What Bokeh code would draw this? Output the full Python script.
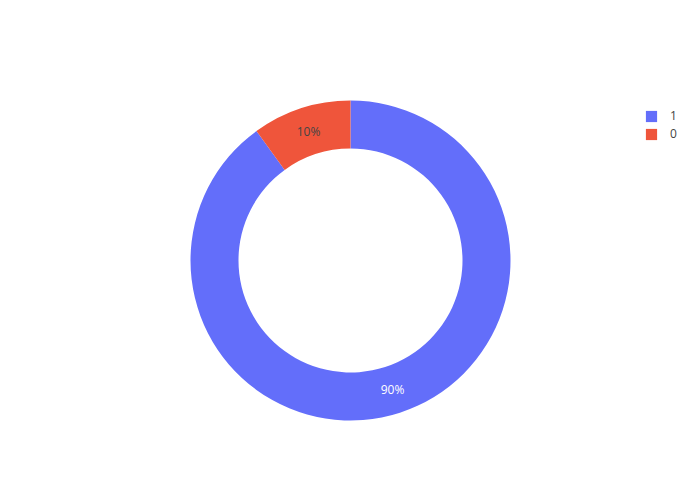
import math
from bokeh.plotting import figure
from bokeh.models import Range1d, ColumnDataSource, Legend, LegendItem
from bokeh.core.properties import value
from bokeh.embed import file_html
from bokeh.resources import INLINE

labels = ["1", "0"]
values = [90, 10]
colors = ["#636efa", "#EF553B"]
text_colors = ["#ffffff", "#444444"]

W, H = 684, 484
p = figure(width=W, height=H, output_backend="svg", toolbar_location=None,
           x_range=Range1d(0, 684), y_range=Range1d(16, 500),
           min_border=0, outline_line_color=None, background_fill_color="white")
p.axis.visible = False
p.grid.visible = False

cx, cy = 350, 240
r_out, r_in = 160, 112
total = sum(values)
start = 90.0
starts, ends, lx, ly, pct = [], [], [], [], []
for v in values:
    sweep = 360.0 * v / total
    end = start - sweep
    starts.append(math.radians(end))
    ends.append(math.radians(start))
    mid = math.radians(start - sweep / 2)
    rm = (r_out + r_in) / 2
    lx.append(cx + rm * math.cos(mid))
    ly.append(cy + rm * math.sin(mid))
    pct.append(f"{round(100 * v / total)}%")
    start = end

src = ColumnDataSource(dict(start=starts, end=ends, color=colors, lx=lx, ly=ly,
                            pct=pct, tc=text_colors, label=labels))
p.annular_wedge(x=cx, y=cy, inner_radius=r_in, outer_radius=r_out,
                start_angle="start", end_angle="end", fill_color="color",
                line_color="white", line_width=0, line_alpha=0, source=src)
p.text(x="lx", y="ly", text="pct", text_color="tc", text_font=value("Open Sans"),
       text_font_size="12px", text_align="center", text_baseline="middle", source=src)

items = []
for lab, col in zip(labels, colors):
    r = p.rect(x=[-1000], y=[-1000], width=1, height=1, fill_color=col, line_color=None)
    items.append(LegendItem(label=lab, renderers=[r]))
leg = Legend(items=items, location=(644, 342), orientation="vertical",
             glyph_width=14, glyph_height=14, label_height=11, spacing=1,
             padding=0, margin=0, label_standoff=12,
             label_text_font="Open Sans", label_text_font_size="12px",
             label_text_color="#444444", border_line_color=None,
             background_fill_alpha=0)
p.add_layout(leg)

open("out.html", "w").write(file_html(p, INLINE))
